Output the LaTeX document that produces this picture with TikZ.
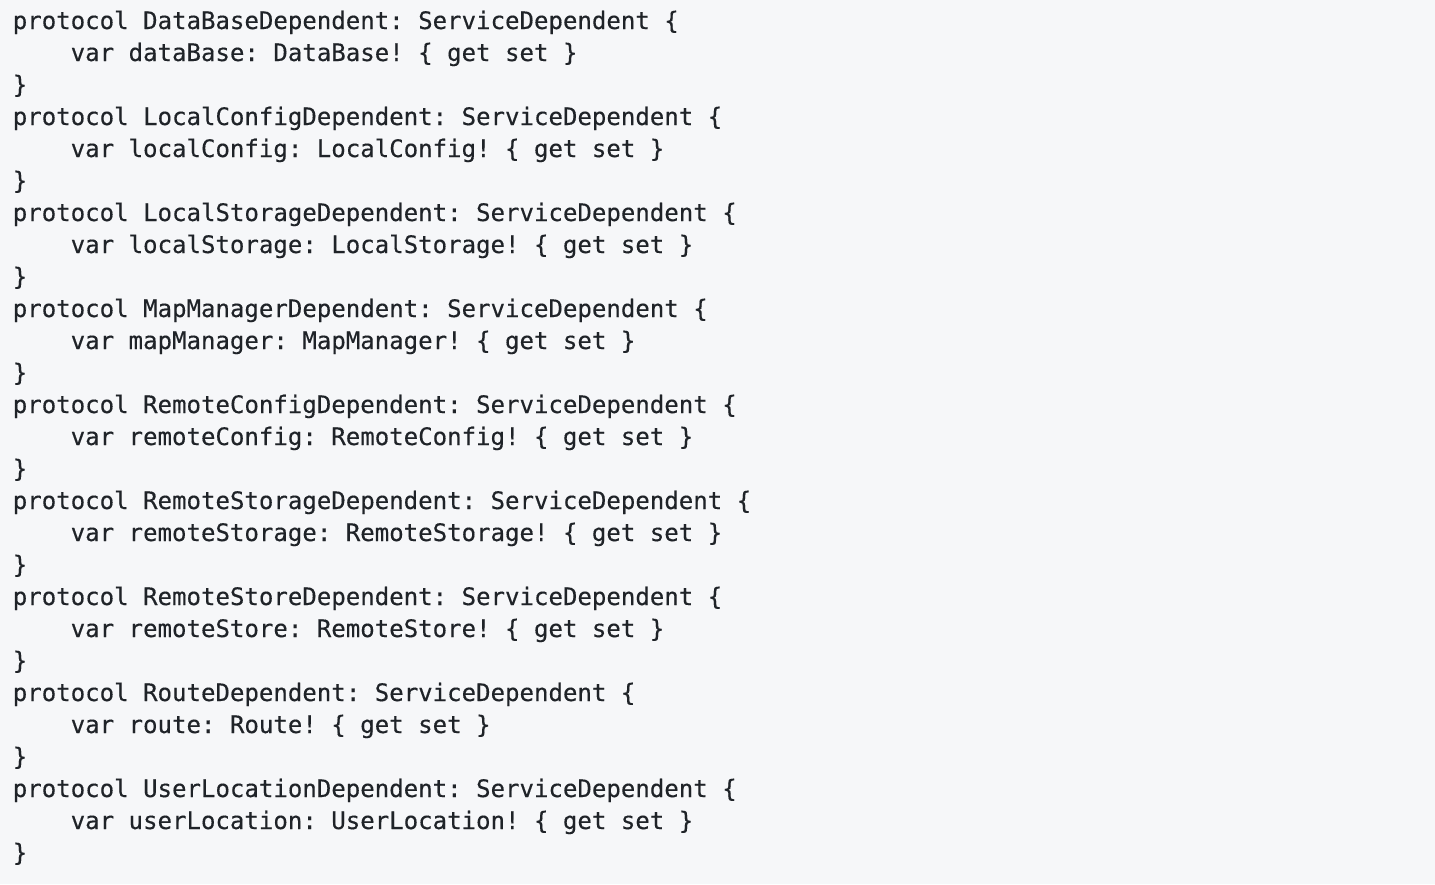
\documentclass[tikz,border=0pt]{standalone}
\usepackage{fontspec}
\newfontfamily\codefont[FakeBold=0.35]{DejaVu Sans Mono}
\definecolor{bgcol}{HTML}{F6F7F9}
\definecolor{txtcol}{HTML}{1F2328}
\frenchspacing
\begin{document}
\begin{tikzpicture}[x=1pt,y=1pt,
  codeline/.style={anchor=base west,inner sep=0pt,outer sep=0pt,text=txtcol,font=\codefont\fontsize{24.05pt}{32pt}\selectfont\frenchspacing}]
\fill[bgcol] (0,0) rectangle (1435,-884);
\useasboundingbox (0,0) rectangle (1435,-884);
\def\xa{12.8}
\def\xb{70.7}
\node[codeline] (l1) at (\xa,-29) {protocol DataBaseDependent: ServiceDependent \{};
\node[codeline] (l2) at (\xb,-61) {var dataBase: DataBase! \{ get set \}};
\node[codeline] (l3) at (\xa,-93) {\}};
\node[codeline] (l4) at (\xa,-125) {protocol LocalConfigDependent: ServiceDependent \{};
\node[codeline] (l5) at (\xb,-157) {var localConfig: LocalConfig! \{ get set \}};
\node[codeline] (l6) at (\xa,-189) {\}};
\node[codeline] (l7) at (\xa,-221) {protocol LocalStorageDependent: ServiceDependent \{};
\node[codeline] (l8) at (\xb,-253) {var localStorage: LocalStorage! \{ get set \}};
\node[codeline] (l9) at (\xa,-285) {\}};
\node[codeline] (l10) at (\xa,-317) {protocol MapManagerDependent: ServiceDependent \{};
\node[codeline] (l11) at (\xb,-349) {var mapManager: MapManager! \{ get set \}};
\node[codeline] (l12) at (\xa,-381) {\}};
\node[codeline] (l13) at (\xa,-413) {protocol RemoteConfigDependent: ServiceDependent \{};
\node[codeline] (l14) at (\xb,-445) {var remoteConfig: RemoteConfig! \{ get set \}};
\node[codeline] (l15) at (\xa,-477) {\}};
\node[codeline] (l16) at (\xa,-509) {protocol RemoteStorageDependent: ServiceDependent \{};
\node[codeline] (l17) at (\xb,-541) {var remoteStorage: RemoteStorage! \{ get set \}};
\node[codeline] (l18) at (\xa,-573) {\}};
\node[codeline] (l19) at (\xa,-605) {protocol RemoteStoreDependent: ServiceDependent \{};
\node[codeline] (l20) at (\xb,-637) {var remoteStore: RemoteStore! \{ get set \}};
\node[codeline] (l21) at (\xa,-669) {\}};
\node[codeline] (l22) at (\xa,-701) {protocol RouteDependent: ServiceDependent \{};
\node[codeline] (l23) at (\xb,-733) {var route: Route! \{ get set \}};
\node[codeline] (l24) at (\xa,-765) {\}};
\node[codeline] (l25) at (\xa,-797) {protocol UserLocationDependent: ServiceDependent \{};
\node[codeline] (l26) at (\xb,-829) {var userLocation: UserLocation! \{ get set \}};
\node[codeline] (l27) at (\xa,-861) {\}};
\end{tikzpicture}
\end{document}
